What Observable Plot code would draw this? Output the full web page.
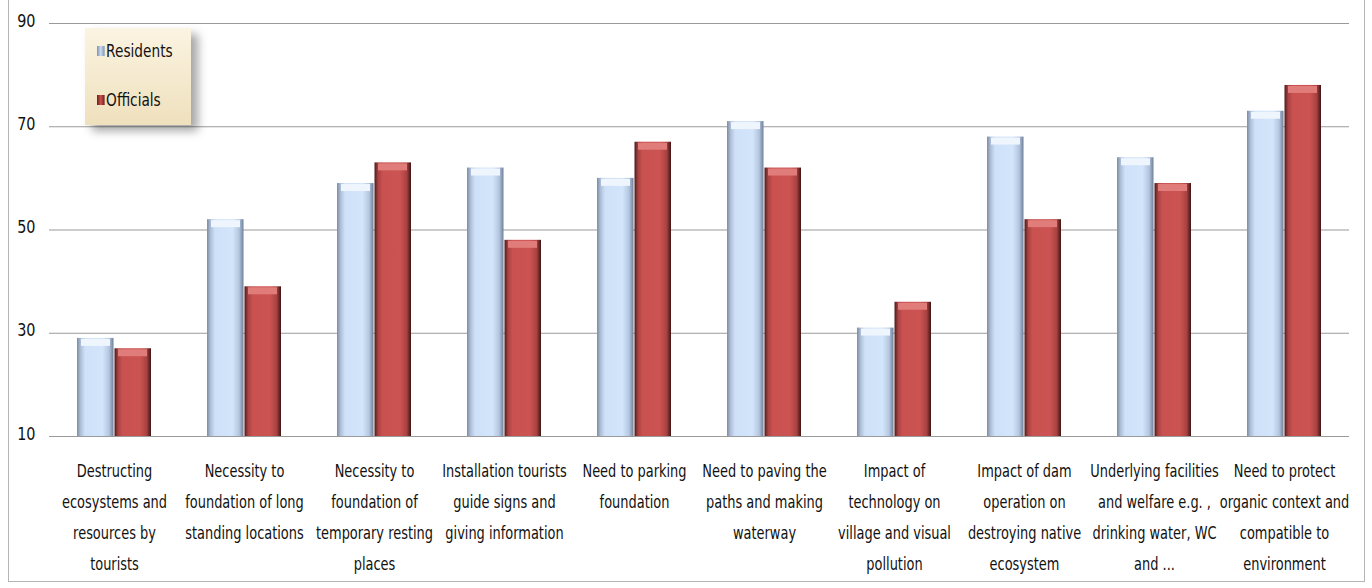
<!DOCTYPE html>
<html>
<head>
<meta charset="utf-8">
<script src="https://cdn.jsdelivr.net/npm/d3@7"></script>
<script src="https://cdn.jsdelivr.net/npm/@observablehq/plot@0.6"></script>
<style>
  html, body { margin: 0; padding: 0; background: #fff; }
  #wrap { position: relative; width: 1372px; height: 588px; overflow: hidden; font-family: "DejaVu Sans", sans-serif; }
  #frame { position: absolute; left: 8px; top: -2px; width: 1357px; height: 584px; border: 1px solid #b5b5b5; box-sizing: border-box; pointer-events: none; }
  #legend { position: absolute; left: 85px; top: 28px; width: 106px; height: 97px;
    background: linear-gradient(#fbf4e2, #efe0bd); box-shadow: 7px 6px 9px rgba(0,0,0,0.35); }
  .item { position: absolute; left: 12px; font-size: 18px; color: #111; display: flex; align-items: center; transform: scaleX(0.76); transform-origin: left center; white-space: nowrap; }
  .sw { width: 10px; height: 10px; margin-right: 2px; }
</style>
</head>
<body>
<div id="wrap">
  <div id="chart"></div>
  <div id="frame"></div>
  <div id="legend">
    <div class="item" style="top:12px"><span class="sw" style="background:linear-gradient(90deg,#7f91ad,#c9dcf3,#7f91ad)"></span>Residents</div>
    <div class="item" style="top:61px"><span class="sw" style="background:linear-gradient(90deg,#6a1f1f,#d0504e,#6a1f1f)"></span>Officials</div>
  </div>
</div>
<script>
const categories = [
  "Destructing\necosystems and\nresources by\ntourists",
  "Necessity to\nfoundation of long\nstanding locations",
  "Necessity to\nfoundation of\ntemporary resting\nplaces",
  "Installation tourists\nguide signs and\ngiving information",
  "Need to parking\nfoundation",
  "Need to paving the\npaths and making\nwaterway",
  "Impact of\ntechnology on\nvillage and visual\npollution",
  "Impact of dam\noperation on\ndestroying native\necosystem",
  "Underlying facilities\nand welfare e.g. ,\ndrinking water, WC\nand ...",
  "Need to protect\norganic context and\ncompatible to\nenvironment"
];
const groups = ["Residents", "Officials"];
const residents = [29, 52, 59, 62, 60, 71, 31, 68, 64, 73];
const officials = [27, 39, 63, 48, 67, 62, 36, 52, 59, 78];
const yTicks = [10, 30, 50, 70, 90];

const rows = categories.flatMap((c, i) => [
  {cat: c, group: "Residents", value: residents[i]},
  {cat: c, group: "Officials", value: officials[i]}
]);
const resRows = rows.filter(d => d.group === "Residents");
const offRows = rows.filter(d => d.group === "Officials");

const font = "DejaVu Sans, sans-serif";

const svg = Plot.plot({
  width: 1372,
  height: 588,
  marginTop: 23,
  marginBottom: 152,
  marginLeft: 45,
  marginRight: 20,
  style: {fontFamily: font, fontSize: "18px", color: "#111", background: "transparent"},
  fx: {domain: categories, padding: 0, label: null},
  x: {domain: groups, paddingInner: 0, paddingOuter: 0.74, axis: null},
  y: {domain: [10, 90], ticks: yTicks, label: null},
  marks: [
    Plot.ruleY(yTicks, {stroke: "#9a9a9a", strokeWidth: 1.2}),
    Plot.barY(resRows, {fx: "cat", x: "group", y1: 10, y2: "value", fill: "url(#gRes)", insetRight: 0.5}),
    Plot.barY(offRows, {fx: "cat", x: "group", y1: 10, y2: "value", fill: "url(#gOff)", insetLeft: 0.5}),
    Plot.tickY(resRows, {fx: "cat", x: "group", y: "value", dy: 4, stroke: "#eef5fd", strokeWidth: 7, insetLeft: 4, insetRight: 4}),
    Plot.tickY(offRows, {fx: "cat", x: "group", y: "value", dy: 4, stroke: "#e07c79", strokeWidth: 7, insetLeft: 4, insetRight: 4}),
    Plot.axisY({ticks: yTicks, tickSize: 0, tickPadding: 14, fontSize: 18, textAnchor: "end"}),
    Plot.axisFx({anchor: "bottom", tickSize: 0, tickPadding: 19, fontSize: 18, lineHeight: 1.72, label: null})
  ]
});

const defs = d3.select(svg).insert("defs", ":first-child");
function grad(id, stops) {
  const g = defs.append("linearGradient").attr("id", id).attr("x1", 0).attr("x2", 1).attr("y1", 0).attr("y2", 0);
  stops.forEach(([o, c]) => g.append("stop").attr("offset", o).attr("stop-color", c));
}
grad("gRes", [[0, "#7c8ca6"], [0.1, "#aebfd7"], [0.22, "#cfe1f8"], [0.7, "#d3e5fb"], [0.88, "#b3c6df"], [1, "#6f7f98"]]);
grad("gOff", [[0, "#4e1a1a"], [0.1, "#a94343"], [0.22, "#c9514f"], [0.7, "#cb5351"], [0.88, "#a84242"], [1, "#3e1414"]]);

// condense the axis text horizontally to imitate a narrow font
function condense(selector, k, shift) {
  d3.select(svg).selectAll(selector).each(function () {
    const t = this.getAttribute("transform") || "";
    const x = +this.getAttribute("x") || 0;
    const y = +this.getAttribute("y") || 0;
    this.removeAttribute("x");
    this.removeAttribute("y");
    this.setAttribute("transform", `${t} translate(${x},${y + shift}) scale(${k},1)`);
  });
}
condense("g[aria-label='fx-axis tick label'] text", 0.72, 0);
condense("g[aria-label='y-axis tick label'] text", 0.8, 3);

document.getElementById("chart").appendChild(svg);
</script>
</body>
</html>
